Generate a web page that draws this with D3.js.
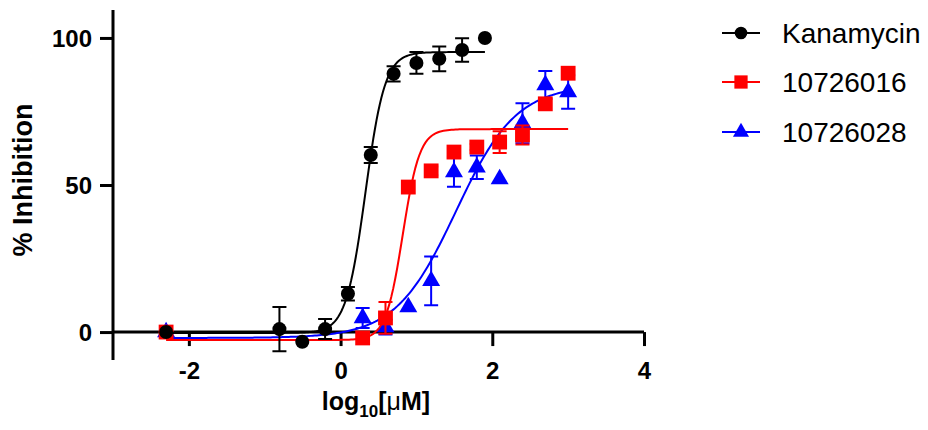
<!DOCTYPE html>
<html>
<head>
<meta charset="utf-8">
<script src="https://cdn.jsdelivr.net/npm/d3@7"></script>
<style>
  body { margin: 0; background: #fff; }
  svg { display: block; font-family: "Liberation Sans", Arial, sans-serif; }
  .axis-line { stroke: #000; stroke-width: 3; fill: none; }
  .tick-label { font-size: 24px; font-weight: bold; }
  .axis-title { font-size: 25px; font-weight: bold; }
  .legend-text { font-size: 28px; }
</style>
</head>
<body>
<svg></svg>
<script>
// series names + colours
var seriesNames = ["Kanamycin", "10726016", "10726028"];
var seriesColors = ["#000000", "#ff0000", "#0000ff"];
var seriesShapes = ["circle", "square", "triangle"];

// log10[uM] concentrations
var kanaX = [-2.3, -0.806, -0.505, -0.204, 0.097, 0.398, 0.699, 1.0, 1.301, 1.602, 1.903];
var cmpdX = [-2.3, 0.291, 0.592, 0.893, 1.194, 1.495, 1.796, 2.097, 2.398, 2.699, 3.0];

// % inhibition (mean) and error (sem)
var kanaY   = [0, 1, -3.3, 1, 13, 60.2, 87.8, 91.5, 92.9, 95.9, 100];
var kanaErr = [0, 7.5, 0, 3.4, 2.3, 2.7, 2.6, 3.7, 4.2, 4, 0];
var c016Y   = [0, -2, 4.8, 49.3, 54.8, 61.2, 62.9, 64.6, 67, 77.6, 88];
var c016Err = [0, 0, 5.4, 0, 1.5, 1.5, 1, 3.7, 3.2, 0, 0];
var c028Y   = [0, 4.8, 1.7, 8.5, 17.4, 54.4, 56, 52, 71, 84, 81.6];
var c028Err = [0, 3.4, 2.5, 0, 8.3, 5, 4, 0, 6.8, 4.8, 5.7];

// 4PL fit params: [bottom, top, logEC50, hill]
var kanaFit = [-0.3, 95.2, 0.328, 3.39];
var c016Fit = [-2.7, 69, 0.82, 3.9];
var c028Fit = [-2, 84, 1.52, 1.09];

// axis ticks
var xTicks = [-2, 0, 2, 4];
var yTicks = [0, 50, 100];

//begin: layout conf.
var svgWidth = 928,
    svgHeight = 430,
    plotLeft = 113,
    plotRight = 644,
    plotTop = 10,
    plotBottom = 360;
//end: layout conf.

var x = d3.scaleLinear().domain([-3, 4]).range([plotLeft, plotRight]);
var y = d3.scaleLinear().domain([-9.5, 109.5]).range([plotBottom, plotTop]);

var svg = d3.select("svg")
    .attr("width", svgWidth)
    .attr("height", svgHeight);

var series = [
  {name: seriesNames[0], color: seriesColors[0], shape: seriesShapes[0], xs: kanaX, ys: kanaY, err: kanaErr, fit: kanaFit},
  {name: seriesNames[1], color: seriesColors[1], shape: seriesShapes[1], xs: cmpdX, ys: c016Y, err: c016Err, fit: c016Fit},
  {name: seriesNames[2], color: seriesColors[2], shape: seriesShapes[2], xs: cmpdX, ys: c028Y, err: c028Err, fit: c028Fit}
];

function fourPL(p, v) {
  return p[0] + (p[1] - p[0]) / (1 + Math.pow(10, (p[2] - v) * p[3]));
}

function markerPath(shape, big) {
  var k = big ? 1 : 0.8;
  if (shape == "circle") return d3.symbol(d3.symbolCircle, 155 * k)();
  if (shape == "square") return d3.symbol(d3.symbolSquare, 220 * k)();
  return d3.symbol(d3.symbolTriangle, 140 * k)();
}

function drawAxes() {
  var g = svg.append("g").classed("axes", true);

  // x axis sits at y = 0
  var xAxis = d3.axisBottom(x).tickValues(xTicks).tickSize(14).tickFormat(d3.format("d"));
  var gx = g.append("g")
      .attr("transform", "translate(0," + y(0) + ")")
      .call(xAxis);
  gx.select(".domain").remove();
  gx.selectAll(".tick line").attr("stroke", "#000").attr("stroke-width", 3);
  gx.selectAll(".tick text")
      .classed("tick-label", true)
      .attr("y", 30)
      .attr("dy", "0.71em")
      .text(function(d){ return d < 0 ? "-" + Math.abs(d) : d; });
  g.append("line").classed("axis-line", true)
      .attr("x1", plotLeft).attr("x2", plotRight)
      .attr("y1", y(0)).attr("y2", y(0));

  var yAxis = d3.axisLeft(y).tickValues(yTicks).tickSize(13);
  var gy = g.append("g")
      .attr("transform", "translate(" + plotLeft + ",0)")
      .call(yAxis);
  gy.select(".domain").remove();
  gy.selectAll(".tick line").attr("stroke", "#000").attr("stroke-width", 3);
  gy.selectAll(".tick text")
      .classed("tick-label", true)
      .attr("x", -21)
      .attr("dy", "0.36em");
  g.append("line").classed("axis-line", true)
      .attr("x1", plotLeft).attr("x2", plotLeft)
      .attr("y1", plotTop).attr("y2", plotBottom);

  svg.selectAll(".tick text").attr("font-family", null).attr("font-size", null);

  // titles
  svg.append("text")
      .classed("axis-title", true)
      .attr("transform", "translate(" + [32, 180] + ") rotate(-90)")
      .attr("text-anchor", "middle")
      .style("font-size", "27px")
      .text("% Inhibition");

  var xt = svg.append("text")
      .classed("axis-title", true)
      .attr("x", 376).attr("y", 410)
      .attr("text-anchor", "middle");
  xt.append("tspan").text("log");
  xt.append("tspan").attr("dy", 7).style("font-size", "17px").text("10");
  xt.append("tspan").attr("dy", -7).text("[");
  xt.append("tspan").style("font-weight", "normal").text("\u03bc");
  xt.append("tspan").text("M]");
}

function drawSeries(s) {
  var g = svg.append("g").classed("series", true);

  var xMin = d3.min(s.xs), xMax = d3.max(s.xs);
  var curve = d3.range(0, 201).map(function(i){
    var v = xMin + (xMax - xMin) * i / 200;
    return [v, fourPL(s.fit, v)];
  });
  g.append("path")
      .attr("d", d3.line().x(function(d){ return x(d[0]); }).y(function(d){ return y(d[1]); })(curve))
      .attr("fill", "none")
      .attr("stroke", s.color)
      .attr("stroke-width", 2);

  var pts = s.xs.map(function(v, i){ return {x: v, y: s.ys[i], e: s.err[i]}; });

  g.selectAll(".err").data(pts.filter(function(d){ return d.e > 0; })).enter()
      .append("path")
      .attr("d", function(d){
        var cx = x(d.x), y1 = y(d.y + d.e), y2 = y(d.y - d.e);
        return "M" + [cx - 7, y1] + "H" + (cx + 7) + "M" + [cx, y1] + "V" + y2 +
               "M" + [cx - 7, y2] + "H" + (cx + 7);
      })
      .attr("fill", "none")
      .attr("stroke", s.color)
      .attr("stroke-width", 2);

  g.selectAll(".pt").data(pts).enter()
      .append("path")
      .attr("transform", function(d){ return "translate(" + [x(d.x), y(d.y)] + ")"; })
      .attr("d", markerPath(s.shape, true))
      .attr("fill", s.color);
}

function drawLegend() {
  var rowY = [33, 82, 132];
  var lg = svg.append("g").classed("legend", true);
  series.forEach(function(s, i){
    var row = lg.append("g").attr("transform", "translate(" + [722, rowY[i]] + ")");
    row.append("line")
        .attr("x1", 0).attr("x2", 38)
        .attr("stroke", s.color).attr("stroke-width", 2);
    row.append("path")
        .attr("transform", "translate(19,0)")
        .attr("d", markerPath(s.shape, false))
        .attr("fill", s.color);
    row.append("text")
        .classed("legend-text", true)
        .attr("x", 60)
        .attr("dy", "0.36em")
        .text(s.name);
  });
}

drawAxes();
// draw blue first, then red, black on top
[2, 1, 0].forEach(function(i){ drawSeries(series[i]); });
drawLegend();
</script>
</body>
</html>
